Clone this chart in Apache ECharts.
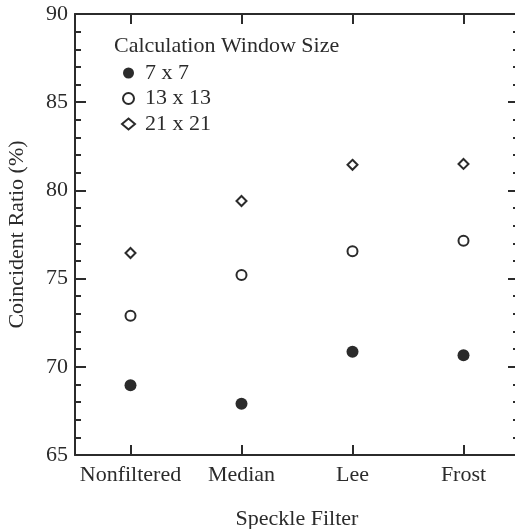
<!DOCTYPE html>
<html>
<head>
<meta charset="utf-8">
<script src="https://cdn.jsdelivr.net/npm/echarts@6/dist/echarts.min.js"></script>
<style>html,body{margin:0;padding:0;background:#fff}#c{width:515px;height:529px}</style>
</head>
<body>
<div id="c"></div>
<script>
const categories = ['Nonfiltered', 'Median', 'Lee', 'Frost'];
const win7 = [68.95, 67.9, 70.85, 70.65];
const win13 = [72.9, 75.2, 76.55, 77.15];
const win21 = [76.45, 79.4, 81.45, 81.5];
const seriesNames = ['7 x 7', '13 x 13', '21 x 21'];
const yTicks = { min: 65, max: 90, interval: 5 };

const ink = '#2b2b2b';
const font = 'Liberation Serif';
const chart = echarts.init(document.getElementById('c'), null, { renderer: 'canvas' });

const axisLine = { show: true, lineStyle: { color: ink, width: 2 } };
chart.setOption({
  animation: false,
  backgroundColor: '#fff',
  title: {
    text: 'Calculation Window Size',
    left: 109, top: 30,
    textStyle: { fontFamily: font, fontSize: 22, fontWeight: 'normal', color: ink }
  },
  legend: {
    orient: 'vertical',
    left: 116, top: 57,
    itemWidth: 13, itemHeight: 11, itemGap: 3.5,
    textStyle: { fontFamily: font, fontSize: 22, color: ink, lineHeight: 20, padding: [0, 0, 0, 5] },
    data: seriesNames
  },
  grid: { left: 75, top: 14, width: 444, height: 441, outerBoundsMode: 'none', containLabel: false },
  xAxis: [{
    type: 'category', data: categories, position: 'bottom',
    boundaryGap: true,
    axisLine: axisLine,
    axisTick: { show: true, inside: true, alignWithLabel: true, length: 10, lineStyle: { color: ink, width: 2 } },
    axisLabel: { fontFamily: font, fontSize: 22, color: ink, margin: 9, interval: 0 },
    name: 'Speckle Filter', nameLocation: 'middle', nameGap: 53,
    nameTextStyle: { fontFamily: font, fontSize: 22, color: ink },
    splitLine: { show: false }
  }, {
    type: 'category', data: categories, position: 'top',
    boundaryGap: true,
    axisLine: axisLine,
    axisTick: { show: true, inside: true, alignWithLabel: true, interval: 0, length: 10, lineStyle: { color: ink, width: 2 } },
    axisLabel: { show: false, interval: 0 },
    splitLine: { show: false }
  }],
  yAxis: [{
    type: 'value', position: 'left', min: yTicks.min, max: yTicks.max, interval: yTicks.interval,
    axisLine: axisLine,
    axisTick: { show: true, inside: true, length: 11, lineStyle: { color: ink, width: 2 } },
    minorTick: { show: true, splitNumber: 5, length: 6, lineStyle: { color: ink, width: 2 } },
    axisLabel: { fontFamily: font, fontSize: 22, color: ink, margin: 7 },
    name: 'Coincident Ratio (%)', nameLocation: 'middle', nameGap: 47,
    nameTextStyle: { fontFamily: font, fontSize: 22, color: ink },
    splitLine: { show: false }
  }, {
    type: 'value', position: 'right', min: yTicks.min, max: yTicks.max, interval: yTicks.interval,
    axisLine: axisLine,
    axisTick: { show: true, inside: true, length: 11, lineStyle: { color: ink, width: 2 } },
    minorTick: { show: true, splitNumber: 5, length: 6, lineStyle: { color: ink, width: 2 } },
    axisLabel: { show: false },
    splitLine: { show: false }
  }],
  series: [{
    name: seriesNames[0], type: 'scatter', data: win7,
    symbol: 'circle', symbolSize: 12,
    itemStyle: { color: ink, opacity: 1 }
  }, {
    name: seriesNames[1], type: 'scatter', data: win13,
    symbol: 'emptyCircle', symbolSize: 10,
    itemStyle: { color: ink, borderColor: ink, borderWidth: 2, opacity: 1 }
  }, {
    name: seriesNames[2], type: 'scatter', data: win21,
    symbol: 'emptyDiamond', symbolSize: 10,
    itemStyle: { color: ink, borderColor: ink, borderWidth: 2, opacity: 1 }
  }]
});
</script>
</body>
</html>
